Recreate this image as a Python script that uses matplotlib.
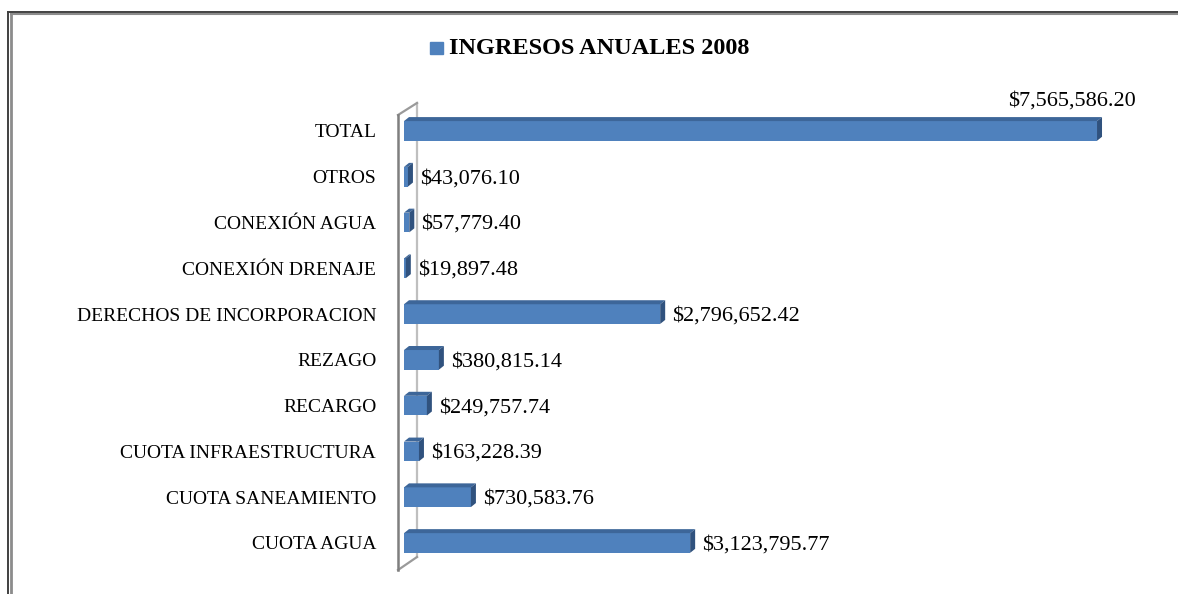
import matplotlib.pyplot as plt
from matplotlib.patches import Polygon, Rectangle

# data (bottom to top, as drawn)
categories = ["CUOTA AGUA", "CUOTA SANEAMIENTO", "CUOTA INFRAESTRUCTURA",
              "RECARGO", "REZAGO", "DERECHOS DE INCORPORACION",
              "CONEXIÓN DRENAJE", "CONEXIÓN AGUA", "OTROS", "TOTAL"]
values = [3123795.77, 730583.76, 163228.39, 249757.74, 380815.14,
          2796652.42, 19897.48, 57779.40, 43076.10, 7565586.20]
series_name = "INGRESOS ANUALES 2008"

W, H = 1178, 594
front = "#4F81BD"
top_c = "#3D6699"
side_c = "#30527E"

plt.rcParams['font.family'] = ['Liberation Serif', 'DejaVu Serif']

fig = plt.figure(figsize=(W / 100, H / 100), dpi=100)

# decoration layer in pixel coords (frame, wall, legend)
deco = fig.add_axes([0, 0, 1, 1], zorder=0)
deco.set_xlim(0, W)
deco.set_ylim(H, 0)
deco.axis("off")

deco.plot([8, 8], [12, H], color="#404040", lw=1.4)
deco.plot([11, 11], [13, H], color="#8C8C8C", lw=2)
deco.plot([8, W], [12, 12], color="#404040", lw=1.4)
deco.plot([11, W], [14, 14], color="#8C8C8C", lw=1.5)

# 3d wall
deco.plot([417, 417], [103, 557], color="#BFBFBF", lw=1.6)
deco.plot([398, 417], [115, 103], color="#9A9A9A", lw=1.6)
deco.plot([398, 417], [570, 557], color="#9A9A9A", lw=1.6)
deco.plot([398, 398], [115, 570], color="#7F7F7F", lw=1.8)

# legend
deco.add_patch(Rectangle((430, 42), 13, 12, color=front))
deco.text(449, 48, series_name, fontsize=17.5, fontweight="bold",
          va="center", ha="left")

ax = fig.add_axes([404 / W, 1 - 570 / H, 770 / W, 467 / H], zorder=1)
ax.set_facecolor("none")
ypos = list(range(len(categories)))
ax.set_xlim(0, 8.406e6)
ax.set_ylim(-0.59, len(categories) - 1 + 0.61)

h = 0.43
ax.barh(ypos, values, height=h, color=front, zorder=3)

# pixel -> data conversion for the depth faces
p0 = ax.transData.transform((0, 0))
p1 = ax.transData.transform((1e6, 1))
px_x = (p1[0] - p0[0]) / 1e6
px_y = p1[1] - p0[1]
dx = 5 / px_x
dy = 4 / px_y

for y, v in zip(ypos, values):
    yt, yb = y + h / 2, y - h / 2
    ax.add_patch(Polygon([(0, yt), (v, yt), (v + dx, yt + dy), (dx, yt + dy)],
                         closed=True, color=top_c, zorder=3, lw=0))
    ax.add_patch(Polygon([(v, yb), (v, yt), (v + dx, yt + dy), (v + dx, yb + dy)],
                         closed=True, color=side_c, zorder=3, lw=0))

imax = values.index(max(values))
for y, v in zip(ypos, values):
    txt = f"${v:,.2f}"
    if y == imax:
        ax.annotate(txt, xy=(v, y), xytext=(-25, 30), textcoords="offset pixels",
                    ha="center", va="center", fontsize=16)
    else:
        ax.annotate(txt, xy=(v, y), xytext=(12, -2), textcoords="offset pixels",
                    ha="left", va="center", fontsize=16)

ax.set_yticks(ypos)
ax.set_yticklabels(categories, fontsize=14)
ax.tick_params(axis="y", length=0, pad=20)
ax.set_xticks([])
for s in ax.spines.values():
    s.set_visible(False)

fig.savefig("out.png", dpi=100)
